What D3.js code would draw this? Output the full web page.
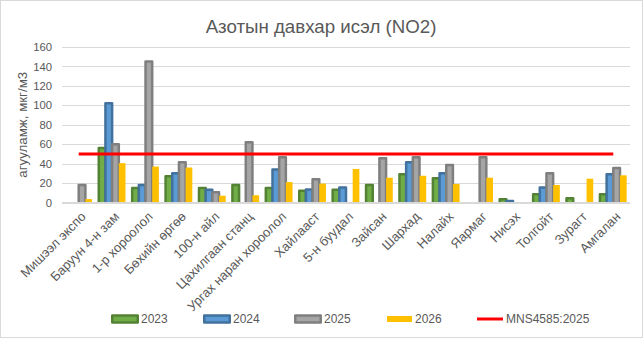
<!DOCTYPE html>
<html>
<head>
<meta charset="utf-8">
<script src="https://cdn.jsdelivr.net/npm/d3@7"></script>
<style>
  html, body { margin: 0; padding: 0; background: #fff; }
  svg { display: block; font-family: "Liberation Sans", Arial, sans-serif; }
</style>
</head>
<body>
<svg id="chart" width="644" height="339"></svg>
<script>
// Monitoring stations
const categories = ["Мишээл экспо", "Баруун 4-н зам", "1-р хороолол", "Бөхийн өргөө", "100-н айл",
  "Цахилгаан станц", "Ургах наран хороолол", "Хайлааст", "5-н буудал", "Зайсан", "Шархад",
  "Налайх", "Яармаг", "Нисэх", "Толгойт", "Зурагт", "Амгалан"];

// NO2 concentration by year, мкг/м3 (null = no measurement)
const s2023 = [null, 56, 15, 27, 15, 18, 15, 12, 13, 18, 29, 25, null, 3.3, 8.5, 4.3, 8.5];
const s2024 = [null, 102, 18, 30, 13, null, 34, 13.5, 15.5, null, 41.5, 30, null, 1.5, 15.5, null, 29];
const s2025 = [18, 60, 145, 41.5, 10.5, 62, 46.5, 24, null, 45.5, 46.5, 38.5, 46.5, null, 30, null, 35.5];
const s2026 = [3.5, 40.5, 37, 36, 7, 7.5, 21, 19.5, 34.5, 25.5, 27.5, 19, 25.5, null, 18, 24.5, 28];

// Standard limit MNS4585:2025
const normValues = categories.map(() => 50);

const yTicks = [0, 20, 40, 60, 80, 100, 120, 140, 160];
const seriesNames = ["2023", "2024", "2025", "2026"];
const normName = "MNS4585:2025";

const series = [
  { name: seriesNames[0], values: s2023, fill: "#70AD47", stroke: "#548235" },
  { name: seriesNames[1], values: s2024, fill: "#5B9BD5", stroke: "#41719C" },
  { name: seriesNames[2], values: s2025, fill: "#A5A5A5", stroke: "#7F7F7F" },
  { name: seriesNames[3], values: s2026, fill: "#FFC000", stroke: null }
];

const svg = d3.select("#chart");
const textColor = "#595959";
const grid = "#D9D9D9";

// outer chart frame
svg.append("rect").attr("x", 0.5).attr("y", 0.5).attr("width", 642).attr("height", 337)
  .attr("fill", "#fff").attr("stroke", grid);

const plot = { left: 62, right: 630, top: 47, bottom: 202.5 };

const x0 = d3.scaleBand().domain(categories).range([plot.left, plot.right])
  .paddingInner(0.2).paddingOuter(0.1);
const x1 = d3.scaleBand().domain(seriesNames).range([0, x0.bandwidth()]);
const y = d3.scaleLinear().domain([0, 160]).range([plot.bottom, plot.top]);

// title
svg.append("text").attr("x", 321).attr("y", 33).attr("text-anchor", "middle")
  .attr("font-size", 18.7).attr("fill", textColor).text("Азотын давхар исэл (NO2)");

// gridlines
svg.append("g").selectAll("line").data(yTicks).join("line")
  .attr("x1", plot.left).attr("x2", plot.right)
  .attr("y1", d => Math.round(y(d)) + 0.5).attr("y2", d => Math.round(y(d)) + 0.5)
  .attr("stroke", grid).attr("stroke-width", 1);

// y axis labels
const yAxis = d3.axisLeft(y).tickValues(yTicks).tickSize(0).tickPadding(10);
const gy = svg.append("g").attr("transform", `translate(${plot.left},0)`).call(yAxis);
gy.select(".domain").remove();
gy.selectAll("text").attr("font-size", 11.3).attr("fill", textColor)
  .attr("font-family", "Liberation Sans, Arial, sans-serif");

// y axis title
svg.append("text").attr("transform", `translate(27,${(plot.top + plot.bottom) / 2}) rotate(-90)`)
  .attr("text-anchor", "middle").attr("font-size", 13.3).attr("fill", textColor)
  .text("агууламж, мкг/м3");

// bars, clipped at the baseline
svg.append("clipPath").attr("id", "plotClip").append("rect")
  .attr("x", 0).attr("y", 0).attr("width", 644).attr("height", plot.bottom);

const barsG = svg.append("g").attr("clip-path", "url(#plotClip)");
series.forEach(s => {
  const data = categories.map((c, i) => ({ c, v: s.values[i] })).filter(d => d.v != null);
  barsG.append("g").selectAll("rect").data(data).join("rect")
    .attr("x", d => x0(d.c) + x1(s.name))
    .attr("width", x1.bandwidth())
    .attr("y", d => y(d.v))
    .attr("height", d => plot.bottom - y(d.v) + 3)
    .attr("fill", s.fill)
    .attr("stroke", s.stroke || "none")
    .attr("stroke-width", s.stroke ? 2.5 : 0)
    .attr("stroke-linejoin", "round");
});

// baseline
svg.append("line").attr("x1", plot.left).attr("x2", plot.right)
  .attr("y1", plot.bottom).attr("y2", plot.bottom).attr("stroke", grid);

// norm line through category centres
const line = d3.line().x((d, i) => x0(categories[i]) + x0.bandwidth() / 2).y(d => y(d));
svg.append("path").datum(normValues).attr("d", line)
  .attr("fill", "none").attr("stroke", "#FF0000").attr("stroke-width", 3);

// category labels
const xAxis = d3.axisBottom(x0).tickSize(0).tickPadding(0);
const gx = svg.append("g").attr("transform", `translate(0,${plot.bottom})`).call(xAxis);
gx.select(".domain").remove();
gx.selectAll("text")
  .attr("font-size", 13).attr("fill", textColor)
  .attr("font-family", "Liberation Sans, Arial, sans-serif")
  .attr("text-anchor", "end")
  .attr("dy", 0)
  .attr("transform", "translate(8,15) rotate(-45)");

// legend
const legendItems = [
  { label: seriesNames[0], x: 111, type: "bar", fill: series[0].fill, stroke: series[0].stroke },
  { label: seriesNames[1], x: 203, type: "bar", fill: series[1].fill, stroke: series[1].stroke },
  { label: seriesNames[2], x: 294, type: "bar", fill: series[2].fill, stroke: series[2].stroke },
  { label: seriesNames[3], x: 387, type: "flat", fill: series[3].fill },
  { label: normName, x: 477, type: "line", stroke: "#FF0000" }
];
const ly = 319;
const lg = svg.append("g");
legendItems.forEach(it => {
  if (it.type === "bar") {
    lg.append("rect").attr("x", it.x + 1.25).attr("y", ly - 3.5).attr("width", 25.5).attr("height", 7)
      .attr("fill", it.fill).attr("stroke", it.stroke).attr("stroke-width", 2.5).attr("stroke-linejoin", "round");
  } else if (it.type === "flat") {
    lg.append("rect").attr("x", it.x).attr("y", ly - 3).attr("width", 25).attr("height", 6).attr("fill", it.fill);
  } else {
    lg.append("line").attr("x1", it.x).attr("x2", it.x + 26).attr("y1", ly).attr("y2", ly)
      .attr("stroke", it.stroke).attr("stroke-width", 3);
  }
  lg.append("text").attr("x", it.x + (it.type === "line" ? 29 : it.type === "flat" ? 28 : 30))
    .attr("y", ly + 4.3).attr("font-size", 12).attr("fill", textColor).text(it.label);
});
</script>
</body>
</html>
